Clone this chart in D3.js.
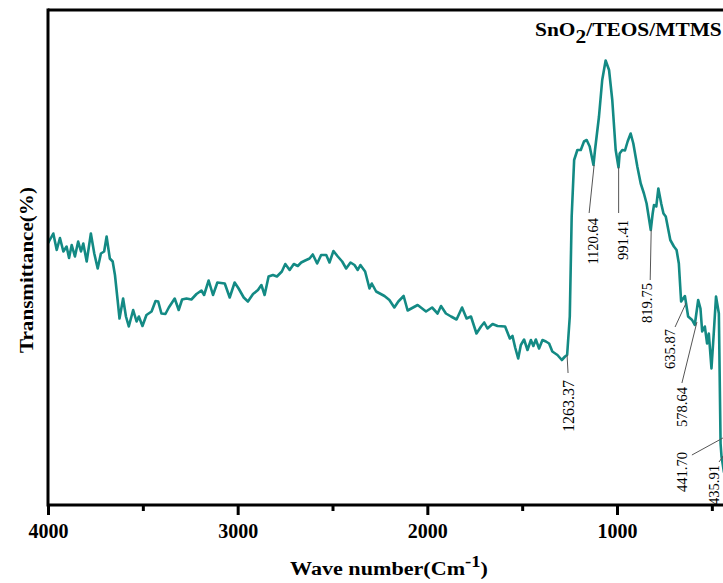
<!DOCTYPE html>
<meta charset="utf-8">
<title>FTIR - SnO2/TEOS/MTMS</title>
<style>
  body { margin: 0; background: #fff; }
  svg { display: block; font-family: "Liberation Serif", "Times New Roman", serif; }
  .axis .tick line { stroke: #000; stroke-width: 3; }
  .axis .tick text { font-family: "Liberation Serif", "Times New Roman", serif; font-size: 20px; font-weight: bold; fill: #000; }
  .axis path.domain { display: none; }
  .frame { stroke: #000; stroke-width: 3; fill: none; }
  .spectrum { fill: none; stroke: #138a84; stroke-width: 2.6; stroke-linejoin: round; }
  .leader { stroke: #555; stroke-width: 1; }
  .peak { font-size: 14.5px; fill: #000; }
</style>
<body>
<script src="https://d3js.org/d3.v7.min.js"></script>
<script>
// wave number (cm-1) and transmittance (%, arbitrary scale)
var waveNumber = [4000,3995,3972,3954,3937,3919,3902,3889,3875,3858,3841,3826,3814,3796,3774,3756,3738,3721,3704,3691,
  3674,3659,3647,3633,3623,3604,3589,3574,3551,3533,3521,3502,3481,3454,3433,3419,3402,3381,3363,3332,
  3311,3293,3270,3244,3217,3191,3177,3153,3130,3107,3068,3042,3016,2995,2968,2946,2919,2893,2875,2858,
  2837,2814,2793,2767,2749,2726,2704,2683,2665,2644,2621,2604,2581,2560,2533,2516,2495,2472,2449,2428,
  2405,2384,2367,2353,2328,2305,2293,2270,2226,2200,2174,2153,2125,2104,2051,2007,1975,1946,1928,1902,
  1875,1846,1817,1793,1770,1741,1717,1700,1683,1656,1630,1590,1565,1551,1537,1521,1507,1490,1472,1454,
  1441,1428,1411,1393,1375,1358,1341,1314,1291,1274,1263,1249,1239,1226,1209,1191,1174,1160,1144,1124,
  1116,1095,1078,1060,1042,1025,1007,992,986,972,958,944,928,914,893,875,858,844,822,812,
  805,793,782,767,755,743,719,700,686,674,662,642,625,604,590,572,560,551,537,525,
  516,502,490,478,463,454,449,442,436];
var transmittance = [52.4,52.7,54.3,51.0,53.4,50.7,51.7,49.4,52.0,49.7,52.7,50.7,52.3,48.7,54.3,50.3,47.3,50.3,50.7,53.7,
  49.3,48.7,46.0,41.0,37.3,41.3,37.7,35.7,39.0,36.7,37.7,35.8,38.0,38.7,40.8,40.7,38.3,38.2,39.5,41.3,
  39.0,41.1,41.3,41.1,42.2,42.9,42.0,44.9,42.0,44.5,44.3,41.5,44.5,43.3,41.5,40.7,42.2,43.0,44.0,42.0,
  45.7,46.0,45.7,46.7,48.2,47.0,48.2,47.8,48.5,48.9,49.3,50.1,48.3,50.0,50.0,48.5,50.8,49.7,48.7,47.3,
  48.5,48.0,47.0,48.0,46.7,43.3,44.3,42.7,41.8,41.0,39.5,40.7,41.8,38.9,40.0,38.7,39.5,38.3,39.8,38.3,
  37.7,37.1,39.5,37.3,37.7,34.3,35.7,36.5,35.3,36.2,35.8,35.7,33.3,33.8,31.5,29.3,32.0,33.1,31.0,33.0,
  31.8,33.1,31.3,33.0,32.7,32.3,30.7,30.0,29.0,29.7,30.0,37.7,57.7,69.0,71.0,71.0,72.7,73.0,71.7,68.0,
  71.0,77.7,85.0,88.9,87.0,81.0,71.0,67.5,70.3,71.0,70.9,72.7,74.3,72.3,67.7,64.3,62.3,60.3,55.0,58.3,
  60.0,59.7,63.3,60.3,58.3,57.7,53.0,51.7,51.0,48.3,40.7,41.8,37.7,37.0,36.0,41.0,39.3,34.7,35.7,32.3,
  34.3,27.3,34.3,41.7,38.3,12.3,9.7,8.0,6.5];

var xTicks = [4000, 3000, 2000, 1000];
var xMinorTicks = [3500, 2500, 1500, 500];

// labelled bands
var peakLabels = ["1263.37", "1120.64", "991.41", "819.75", "635.87", "578.64", "441.70", "435.91"];
var peakWave = [1263.37, 1120.64, 991.41, 819.75, 635.87, 578.64, 441.70, 435.91];
var peakT = [30.0, 68.0, 67.6, 55.0, 40.4, 36.6, 13.4, 10.0];
// leader end offset from band point, then text offset from leader end
var labelLayout = [
  [1, 18, 0, 7], [-5, 48, 4, 5], [0, 46, 4.5, 7], [-1, 50, -3.5, 3],
  [-11, 24, -5, 2], [-15, 61, 0, 4], [-31, 17, -10, -3], [-5, 7, -5, 3]
];

var width = 723, height = 583;
var mLeft = 48, mTop = 10, mBottom = 505;

var x = d3.scaleLinear().domain([4000, 0]).range([mLeft, mLeft + 4000 * 0.18967]);
var y = d3.scaleLinear().domain([0, 99]).range([mBottom, mTop]);

var svg = d3.select("body").append("svg")
    .attr("width", width)
    .attr("height", height);

var data = waveNumber.map(function(w, i) { return { w: w, t: transmittance[i] }; });

var line = d3.line()
    .x(function(d) { return x(d.w); })
    .y(function(d) { return y(d.t); });

svg.append("path")
    .datum(data)
    .attr("class", "spectrum")
    .attr("d", line);

// leaders + band labels
peakLabels.forEach(function(lbl, i) {
  var px = x(peakWave[i]), py = y(peakT[i]);
  var L = labelLayout[i];
  var ex = px + L[0], ey = py + L[1];
  svg.append("line")
      .attr("class", "leader")
      .attr("x1", px).attr("y1", py)
      .attr("x2", ex).attr("y2", ey);
  svg.append("text")
      .attr("class", "peak")
      .attr("transform", "translate(" + (ex + L[2]) + "," + (ey + L[3]) + ") rotate(-90)")
      .attr("text-anchor", "end")
      .attr("dy", "0.35em")
      .style("font-size", i == 0 ? "16px" : null)
      .text(lbl);
});

// frame
svg.append("line").attr("class", "frame")
    .attr("x1", mLeft).attr("y1", mTop - 1.5).attr("x2", mLeft).attr("y2", mBottom + 1.5);
svg.append("line").attr("class", "frame")
    .attr("x1", mLeft).attr("y1", mTop).attr("x2", width + 5).attr("y2", mTop);
svg.append("line").attr("class", "frame")
    .attr("x1", mLeft).attr("y1", mBottom).attr("x2", width + 5).attr("y2", mBottom);

svg.append("g")
    .attr("class", "axis")
    .attr("transform", "translate(0," + mBottom + ")")
    .call(d3.axisBottom(x).tickValues(xTicks).tickSize(10).tickPadding(9).tickFormat(d3.format("d")));

svg.append("g")
    .attr("class", "axis")
    .attr("transform", "translate(0," + mBottom + ")")
    .call(d3.axisBottom(x).tickValues(xMinorTicks).tickSize(6).tickFormat(""));

// x title
var xt = svg.append("text")
    .attr("font-size", 19)
    .attr("font-weight", "bold")
    .attr("text-anchor", "middle");
xt.append("tspan").text("Wave number(Cm");
xt.append("tspan").attr("dy", -8).attr("font-size", 16).text("-1");
xt.append("tspan").attr("dy", 8).text(")");
var xw = xt.node().getBBox().width;
xt.attr("transform", "translate(389,575) scale(" + (198 / xw) + ",1)");

// y title
svg.append("text")
    .attr("transform", "translate(33,270) rotate(-90)")
    .attr("text-anchor", "middle")
    .attr("font-size", 19)
    .attr("font-weight", "bold")
    .attr("textLength", 166)
    .attr("lengthAdjust", "spacingAndGlyphs")
    .text("Transmittance(%)");

// sample name
var tt = svg.append("text")
    .attr("font-size", 18)
    .attr("font-weight", "bold");
tt.append("tspan").text("SnO");
tt.append("tspan").attr("dy", 7).text("2");
tt.append("tspan").attr("dy", -7).text("/TEOS/MTMS");
var tw = tt.node().getBBox().width;
tt.attr("transform", "translate(535,36) scale(" + (187 / tw) + ",1)");
</script>
</body>
